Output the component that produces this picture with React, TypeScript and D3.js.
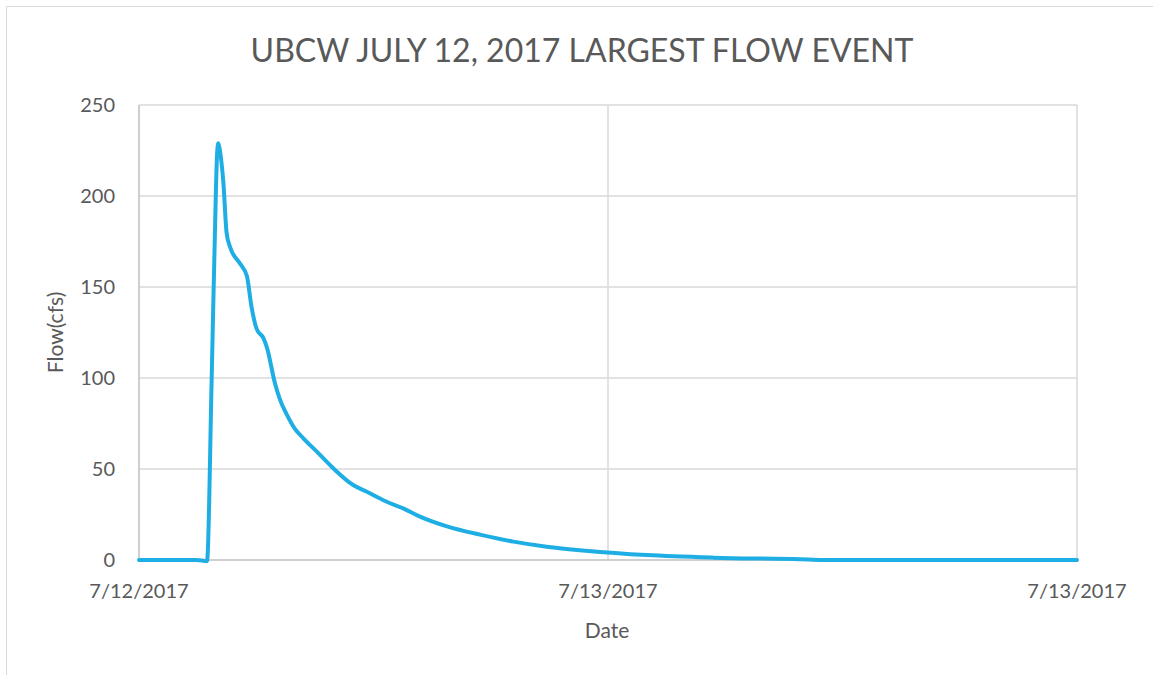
import React from "react";
import * as d3 from "d3";

// Hours since the start of the axis (7/12/2017) and flow in cfs
const hours = [0, 1.48, 1.74, 1.86, 1.97, 2.0, 2.03, 2.07, 2.16, 2.24, 2.33, 2.58, 2.76, 2.88, 3.01, 3.18, 3.27, 3.48, 3.61, 3.78, 3.99, 4.2, 4.55, 4.97, 5.48, 5.83, 6.34, 6.76, 7.19, 7.9, 8.75, 9.58, 10.43, 11.43, 12.99, 14.7, 16.91, 17.5, 24];
const flow = [0, 0, -0.6, 100, 205, 224, 229, 225, 207, 180, 172, 163, 156, 139, 127, 122, 117, 97, 88, 80, 72, 67, 59.5, 50.4, 41.2, 37.5, 32, 28.4, 23.8, 18.3, 13.8, 10.1, 7.3, 5.1, 2.7, 1.3, 0.4, 0, 0];
const xTickHours = [0, 12, 24];
const xTickLabels = ["7/12/2017", "7/13/2017", "7/13/2017"];
const yTicks = [0, 50, 100, 150, 200, 250];
const title = "UBCW JULY 12, 2017 LARGEST FLOW EVENT";

export default function App() {
  const W = 1153, H = 675;
  const left = 139, right = 1077, top = 105, bottom = 560;
  const x = d3.scaleLinear().domain([0, 24]).range([left, right]);
  const y = d3.scaleLinear().domain([0, 250]).range([bottom, top]);
  const data = hours.map((h, i) => ({ h, v: flow[i] }));
  const line = d3.line<{ h: number; v: number }>()
    .x(d => x(d.h)).y(d => y(d.v)).curve(d3.curveMonotoneX);
  const font = "Lato, 'Open Sans', sans-serif";
  const txt = "#595959";
  return (
    <svg width={W} height={H} style={{ position: "absolute", left: 0, top: 0, background: "#fff" }}>
      <rect x={0} y={0} width={W} height={H} fill="#fff" />
      <line x1={6.5} y1={6.5} x2={W} y2={6.5} stroke="#d9d9d9" />
      <line x1={6.5} y1={6.5} x2={6.5} y2={H} stroke="#d9d9d9" />
      <text x={582} y={62} textAnchor="middle" fontFamily={font} fontSize={32} fill={txt}>{title}</text>
      {yTicks.filter(t => t > 0).map(t => (
        <line key={t} x1={left} x2={right} y1={y(t)} y2={y(t)} stroke="#d9d9d9" strokeWidth={1.5} />
      ))}
      {xTickHours.filter(t => t > 0).map(t => (
        <line key={t} x1={x(t)} x2={x(t)} y1={top} y2={bottom} stroke="#d9d9d9" strokeWidth={1.5} />
      ))}
      <line x1={left} x2={left} y1={top} y2={bottom} stroke="#bfbfbf" strokeWidth={1.5} />
      <line x1={left} x2={right} y1={bottom} y2={bottom} stroke="#bfbfbf" strokeWidth={1.5} />
      {yTicks.map(t => (
        <text key={t} x={115} y={y(t) + 7} textAnchor="end" fontFamily={font} fontSize={20} fill={txt}>{t}</text>
      ))}
      {xTickHours.map((t, i) => (
        <text key={i} x={x(t)} y={598} textAnchor="middle" fontFamily={font} fontSize={20} fill={txt}>{xTickLabels[i]}</text>
      ))}
      <text x={607} y={638} textAnchor="middle" fontFamily={font} fontSize={21} fill={txt}>Date</text>
      <text transform={`translate(63, ${(top + bottom) / 2}) rotate(-90)`} textAnchor="middle" fontFamily={font} fontSize={21} fill={txt}>Flow(cfs)</text>
      <path d={line(data) || ""} fill="none" stroke="#1FAEE4" strokeWidth={4} strokeLinejoin="round" strokeLinecap="round" />
    </svg>
  );
}
